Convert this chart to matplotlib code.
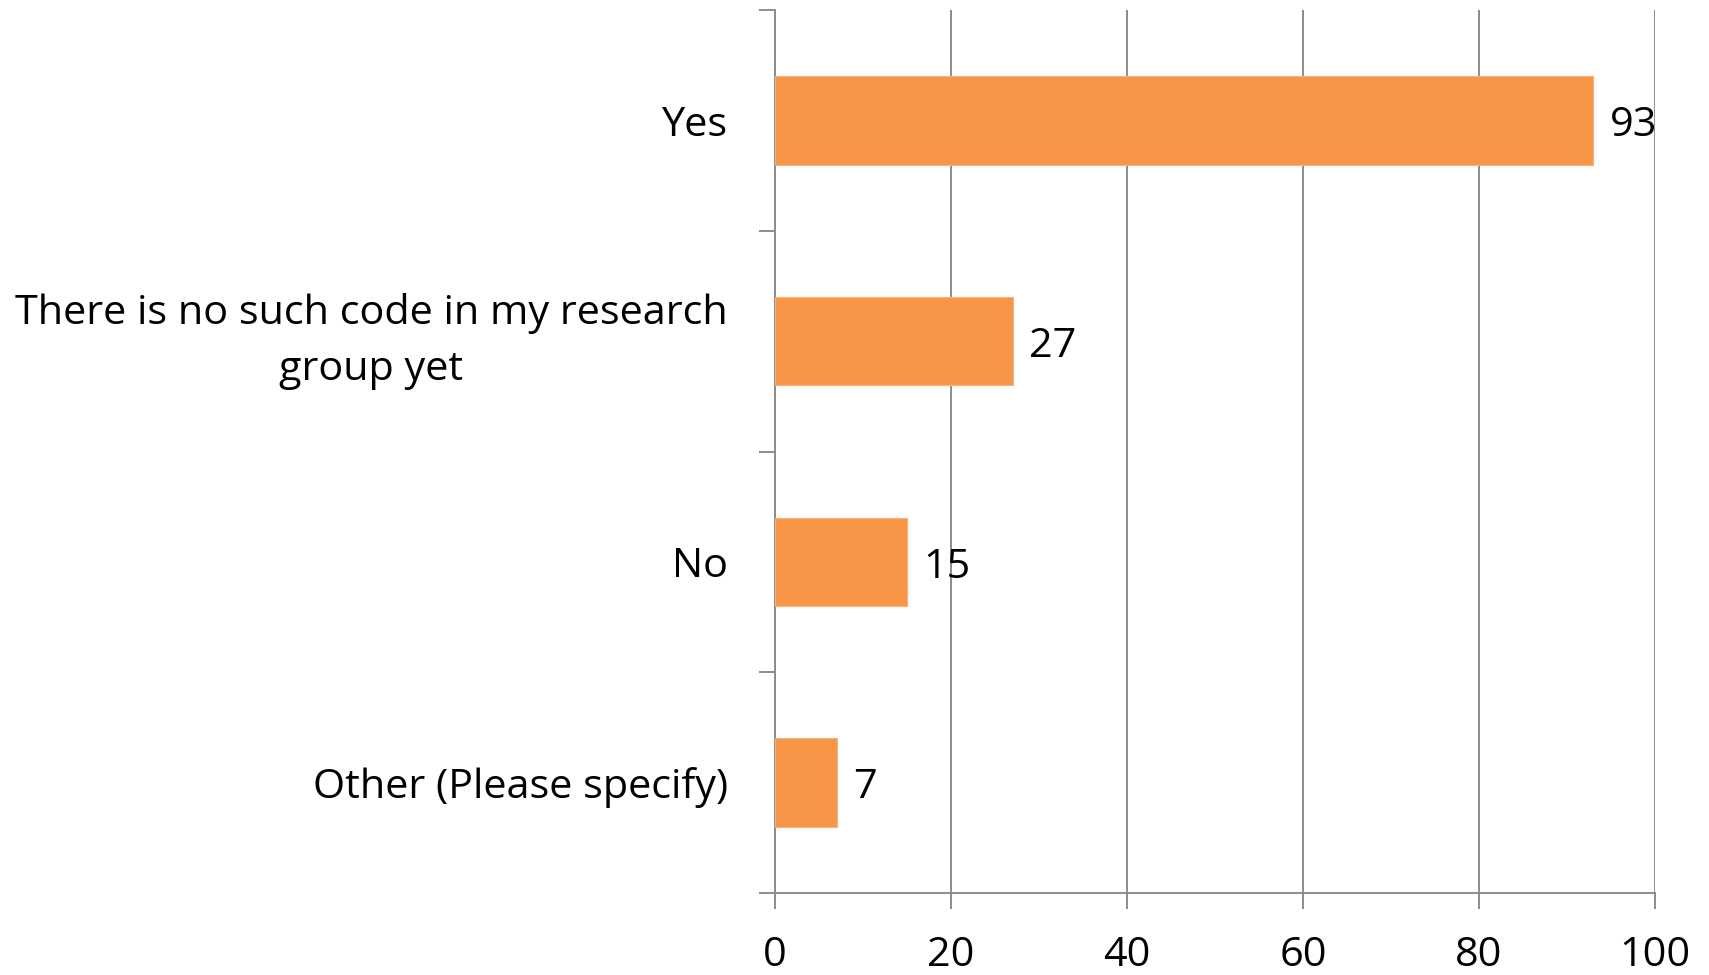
import matplotlib
matplotlib.use("Agg")
import matplotlib.pyplot as plt
import numpy as np

# data
categories = ["Yes", "There is no such code in my research\ngroup yet", "No", "Other (Please specify)"]
counts = [93, 27, 15, 7]
x_ticks = [0, 20, 40, 60, 80, 100]

bar_color = "#F79646"
grid_color = "#8C8C8C"

plt.rcParams["font.family"] = ["Open Sans", "DejaVu Sans"]

fig = plt.figure(figsize=(17.09, 9.75), dpi=100)
ax = fig.add_axes([0.4535, 0.0841, 0.5149, 0.9056])

y = np.arange(len(categories))
bars = ax.barh(y, counts, height=0.4, color=bar_color, edgecolor="#FAB07A", linewidth=0.8, zorder=3)

for b, v in zip(bars, counts):
    ax.text(b.get_width() + 1.9, b.get_y() + b.get_height() / 2 + 0.025, str(v),
            va="center", ha="left", fontsize=29.8, color="black", zorder=4)

ax.set_ylim(len(categories) - 0.5, -0.5)
ax.set_xlim(0, 100)

ax.set_yticks(y)
ax.set_yticklabels(categories, fontsize=29.8, multialignment="center", linespacing=1.5)
ax.set_yticks(np.arange(-0.5, len(categories), 1), minor=True)
ax.tick_params(axis="y", which="major", length=0, pad=34)
ax.tick_params(axis="y", which="minor", length=11.5, width=1.4, color=grid_color)

# the two-line label sits centred on its bar
for lab in ax.get_yticklabels():
    if "\n" in lab.get_text():
        lab.set_va("center")

ax.set_xticks(x_ticks)
ax.tick_params(axis="x", labelsize=29.8, length=11.5, width=1.4, color=grid_color, pad=19)

ax.xaxis.grid(True, color=grid_color, linewidth=1.4, zorder=0)
ax.set_axisbelow(True)

for s in ["top", "right"]:
    ax.spines[s].set_visible(False)
for s in ["left", "bottom"]:
    ax.spines[s].set_color(grid_color)
    ax.spines[s].set_linewidth(1.4)

fig.savefig("out.png", dpi=100)
